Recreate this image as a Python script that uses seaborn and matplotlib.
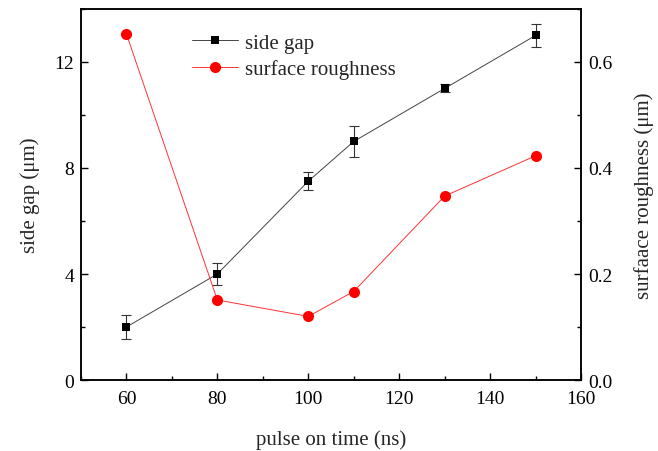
import matplotlib
matplotlib.use("Agg")
import matplotlib.pyplot as plt
import seaborn as sns
import pandas as pd
from matplotlib.ticker import MultipleLocator

pulse_on_time = [60, 80, 100, 110, 130, 150]
side_gap = [2.0, 4.0, 7.5, 9.0, 11.0, 13.0]
side_gap_err = [0.45, 0.43, 0.33, 0.6, 0.15, 0.43]
surface_roughness = [0.653, 0.151, 0.120, 0.167, 0.347, 0.423]

sns.set_theme(style="ticks")
plt.rcParams['font.family'] = ['Liberation Serif', 'DejaVu Serif']
plt.rcParams['mathtext.fontset'] = 'stix'

df = pd.DataFrame({"t": pulse_on_time, "gap": side_gap, "err": side_gap_err,
                   "rough": surface_roughness})

fig = plt.figure(figsize=(6.58, 4.52), dpi=100)
ax = fig.add_axes([0.123, 0.157, 0.760, 0.821])
ax2 = ax.twinx()

ax.errorbar(df["t"], df["gap"], yerr=df["err"], fmt='none', ecolor='#333333',
            elinewidth=0.8, capsize=3.5, capthick=0.8, zorder=2)
sns.lineplot(data=df, x="t", y="gap", ax=ax, color='black', linewidth=0.7,
             marker='s', markersize=6, markeredgewidth=0, label='side gap',
             legend=False, zorder=3)
sns.lineplot(data=df, x="t", y="rough", ax=ax2, color='#ff2020', linewidth=0.7,
             marker='o', markersize=8, markeredgewidth=0, markerfacecolor='red',
             label='surface roughness', legend=False, zorder=3)
ax2.lines[0].set_color('#ff3333')
ax2.lines[0].set_markerfacecolor('red')
ax.lines[-1].set_color('#444444')
ax.lines[-1].set_markerfacecolor('black')

ax.set_xlim(50, 160)
ax.set_ylim(0, 14)
ax2.set_ylim(0, 0.7)
ax.xaxis.set_major_locator(MultipleLocator(20))
ax.xaxis.set_minor_locator(MultipleLocator(10))
ax.yaxis.set_major_locator(MultipleLocator(4))
ax.yaxis.set_minor_locator(MultipleLocator(2))
ax2.yaxis.set_major_locator(MultipleLocator(0.2))
ax2.yaxis.set_minor_locator(MultipleLocator(0.1))
ax2.yaxis.set_major_formatter(matplotlib.ticker.FormatStrFormatter('%.1f'))

for a in (ax, ax2):
    for s in a.spines.values():
        s.set_linewidth(1.1)
        s.set_color('black')
    a.tick_params(which='both', direction='in', colors='black', labelsize=14)
    a.tick_params(which='major', length=5, width=1)
    a.tick_params(which='minor', length=3, width=1)
ax.tick_params(axis='y', which='both', right=False, pad=5)
ax2.tick_params(axis='y', which='both', pad=5)
ax.tick_params(axis='x', which='both', top=False, pad=7)

ax.set_xlabel("pulse on time (ns)", fontsize=15, labelpad=16)
ax.set_ylabel("side gap (μm)", fontsize=15, labelpad=10)
ax2.set_ylabel("surfaace roughness (μm)", fontsize=15, labelpad=16)

h1, l1 = ax.get_legend_handles_labels()
h2, l2 = ax2.get_legend_handles_labels()
ax.legend(h1 + h2, l1 + l2, loc='upper left', bbox_to_anchor=(0.222, 0.935),
          frameon=False, fontsize=15, handlelength=2.2, handletextpad=0.35,
          labelspacing=0.33, borderaxespad=0, borderpad=0)

fig.savefig("out.png", dpi=100)
